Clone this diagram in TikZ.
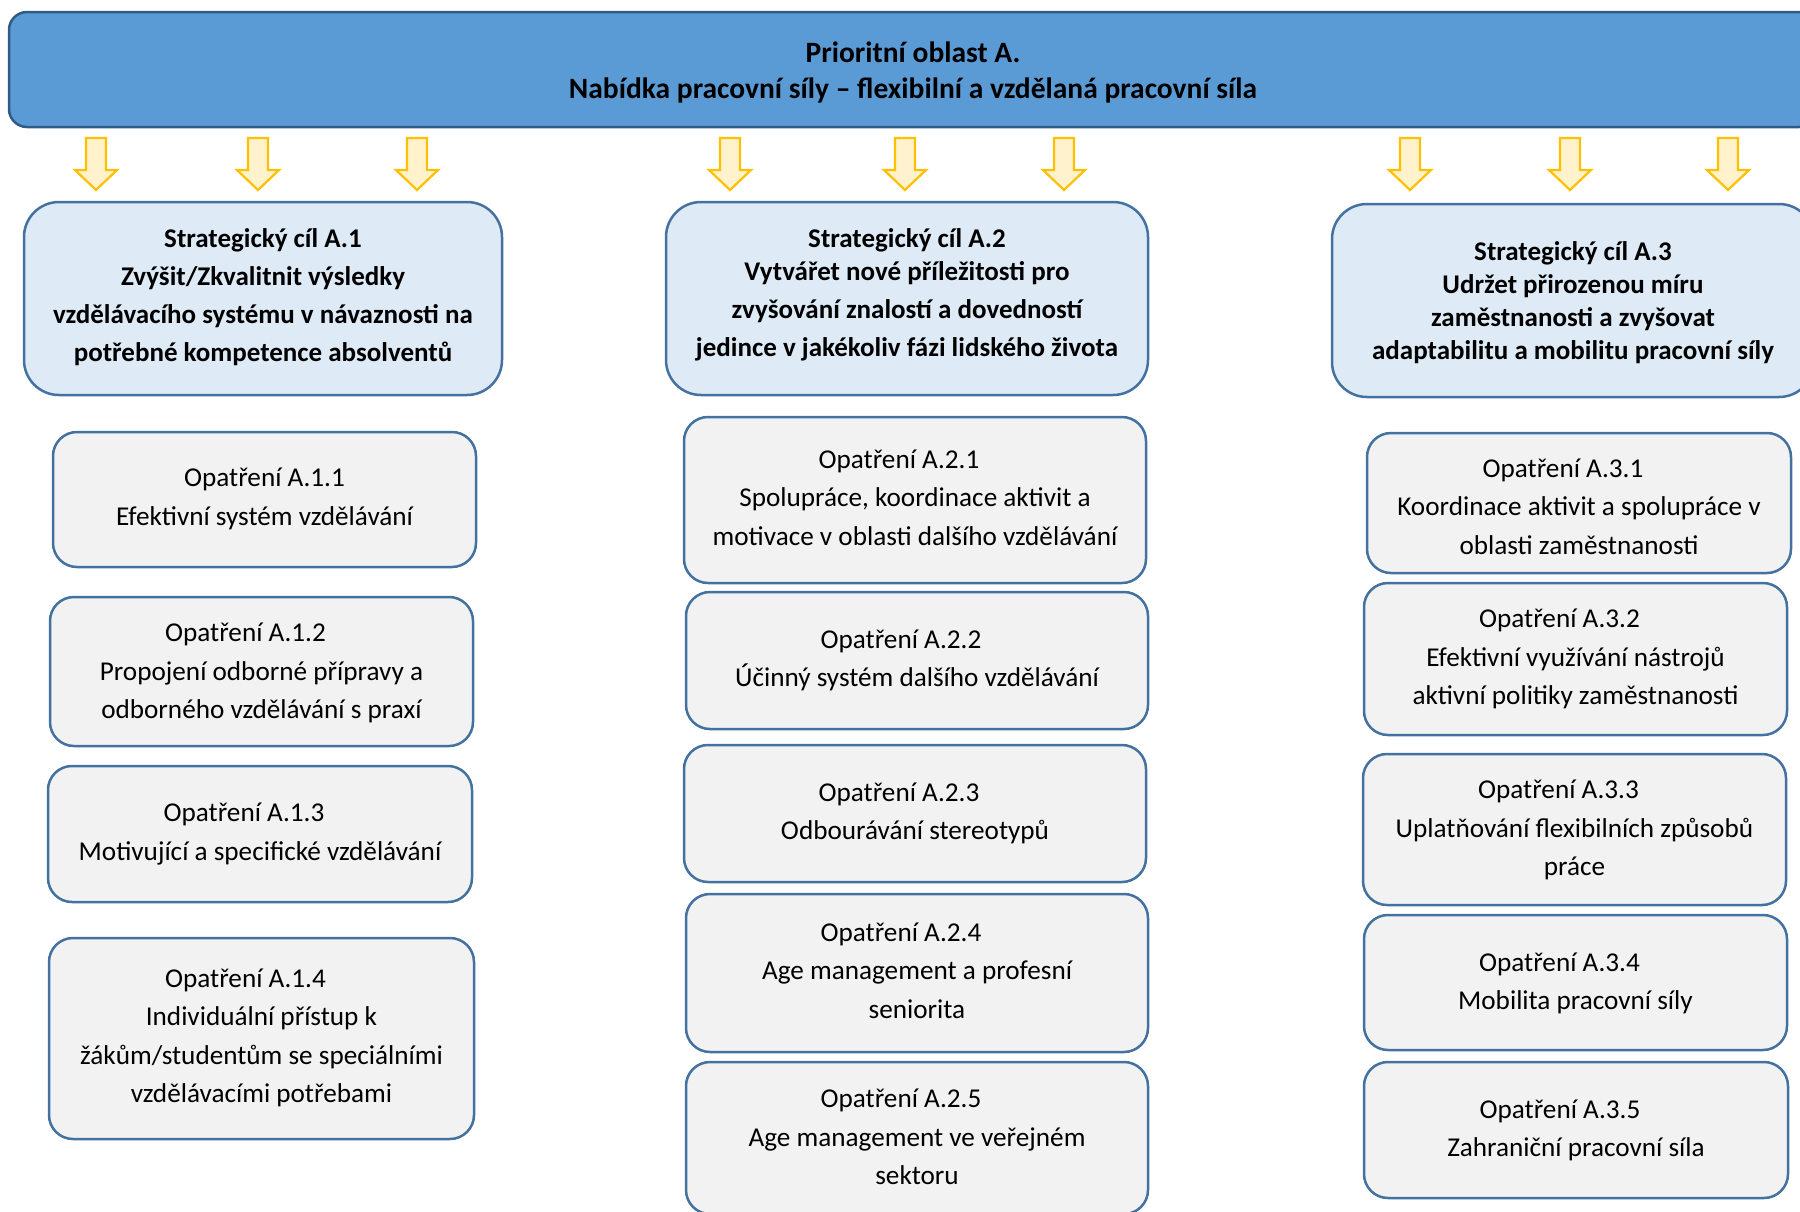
\documentclass[tikz,border=0pt]{standalone}
\usepackage{fontspec}
\setmainfont{Carlito}
\definecolor{bannerfill}{HTML}{5B9BD5}
\definecolor{bannerline}{HTML}{2F5B87}
\definecolor{goalfill}{HTML}{DEEBF7}
\definecolor{boxline}{HTML}{4472A0}
\definecolor{measfill}{HTML}{F2F2F2}
\definecolor{arrline}{HTML}{FFC000}
\definecolor{arrfill}{HTML}{FFF2CC}
\newcommand\optr[1]{Opatření #1\hspace*{32pt}}
\newcommand\tstrut[1]{\rule{0pt}{#1pt}}
\newcommand\bstrut[1]{\rule[-#1pt]{0pt}{0pt}}
\tikzset{
 banner/.style={draw=bannerline, fill=bannerfill, line width=2.5pt, rounded corners=18pt, align=center, font=\fontsize{29.5}{36}\selectfont\bfseries, inner sep=0pt},
 goal/.style={draw=boxline, fill=goalfill, line width=2.5pt, rounded corners=35pt, align=center, font=\fontsize{27}{38}\selectfont\bfseries, inner sep=0pt},
 meas/.style={draw=boxline, fill=measfill, line width=2.5pt, rounded corners=24pt, align=center, font=\fontsize{27.2}{38.5}\selectfont, inner sep=0pt},
 downarrow/.style={draw=arrline, fill=arrfill, line width=2.2pt, line join=miter},
}
\begin{document}
\begin{tikzpicture}[x=1pt,y=-1pt]
\clip (0,0) rectangle (1800,1211);
\fill[white] (0,0) rectangle (1800,1211);
% banner
\node[banner, minimum width=1808, minimum height=115] (ban) at (913,69.5)
  {\tstrut{37}Prioritní oblast A.\\Nabídka pracovní síly – flexibilní a vzdělaná pracovní síla\bstrut{15}};
% arrows
\foreach \x in {96,258,417,730,905,1064,1410,1570,1728}{
  \draw[downarrow] ({\x-10},138) -- ({\x+10},138) -- ({\x+10},170) -- ({\x+21},170)
    -- (\x,190) -- ({\x-21},170) -- ({\x-10},170) -- cycle;
}
% strategic goals
\node[goal, minimum width=478, minimum height=193] (g1) at (263,298.5)
  {\tstrut{32.6}Strategický cíl A.1\\Zvýšit/Zkvalitnit výsledky\\vzdělávacího systému v návaznosti na\\potřebné kompetence absolventů\bstrut{20}};
\node[goal, minimum width=482, minimum height=193] (g2) at (907,298.5)
  {\tstrut{27.6}Strategický cíl A.2\\[-5pt]Vytvářet nové příležitosti pro\\zvyšování znalostí a dovedností\\jedince v jakékoliv fázi lidského života\bstrut{20}};
\node[goal, minimum width=482, minimum height=193, font=\fontsize{27}{33}\selectfont\bfseries] (g3) at (1573,300.5)
  {\tstrut{38.8}Strategický cíl A.3\\Udržet přirozenou míru\\zaměstnanosti a zvyšovat\\adaptabilitu a mobilitu pracovní síly\bstrut{20}};
% column 1
\node[meas, minimum width=423, minimum height=135] (a11) at (264.5,499.5)
  {\tstrut{27.7}Opatření A.1.1\\Efektivní systém vzdělávání\bstrut{15}};
\node[meas, minimum width=423, minimum height=149] (a12) at (261.5,671.5)
  {\tstrut{32}\optr{A.1.2}\\Propojení odborné přípravy a\\odborného vzdělávání s praxí\bstrut{15}};
\node[meas, minimum width=424, minimum height=136] (a13) at (260,834)
  {\tstrut{29.1}\optr{A.1.3}\\Motivující a specifické vzdělávání\bstrut{15}};
\node[meas, minimum width=425, minimum height=201] (a14) at (261.5,1038.5)
  {\tstrut{27.7}\optr{A.1.4}\\Individuální přístup k\\žákům/studentům se speciálními\\vzdělávacími potřebami\bstrut{15}};
% column 2
\node[meas, minimum width=462, minimum height=166] (a21) at (915,500)
  {\tstrut{28.4}\optr{A.2.1}\\Spolupráce, koordinace aktivit a\\motivace v oblasti dalšího vzdělávání\bstrut{15}};
\node[meas, minimum width=462, minimum height=137] (a22) at (917,660.5)
  {\tstrut{29.3}\optr{A.2.2}\\Účinný systém dalšího vzdělávání\bstrut{15}};
\node[meas, minimum width=462, minimum height=137] (a23) at (915,813.5)
  {\tstrut{28.7}\optr{A.2.3}\\Odbourávání stereotypů\bstrut{15}};
\node[meas, minimum width=462, minimum height=158] (a24) at (917,973)
  {\tstrut{28.4}\optr{A.2.4}\\Age management a profesní\\seniorita\bstrut{15}};
\node[meas, minimum width=462, minimum height=152] (a25) at (917,1138)
  {\tstrut{31.2}\optr{A.2.5}\\Age management ve veřejném\\sektoru\bstrut{15}};
% column 3
\node[meas, minimum width=424, minimum height=140] (a31) at (1579,503)
  {\tstrut{40.8}\optr{A.3.1}\\Koordinace aktivit a spolupráce v\\oblasti zaměstnanosti\bstrut{15}};
\node[meas, minimum width=423, minimum height=152] (a32) at (1575.5,659)
  {\tstrut{29.6}\optr{A.3.2}\\Efektivní využívání nástrojů\\aktivní politiky zaměstnanosti\bstrut{15}};
\node[meas, minimum width=423, minimum height=151] (a33) at (1574.5,829.5)
  {\tstrut{30.6}\optr{A.3.3}\\Uplatňování flexibilních způsobů\\práce\bstrut{15}};
\node[meas, minimum width=423, minimum height=135] (a34) at (1575.5,982.5)
  {\tstrut{30.5}\optr{A.3.4}\\Mobilita pracovní síly\bstrut{15}};
\node[meas, minimum width=424, minimum height=136] (a35) at (1576,1130)
  {\tstrut{29.5}\optr{A.3.5}\\Zahraniční pracovní síla\bstrut{15}};
\end{tikzpicture}
\end{document}
